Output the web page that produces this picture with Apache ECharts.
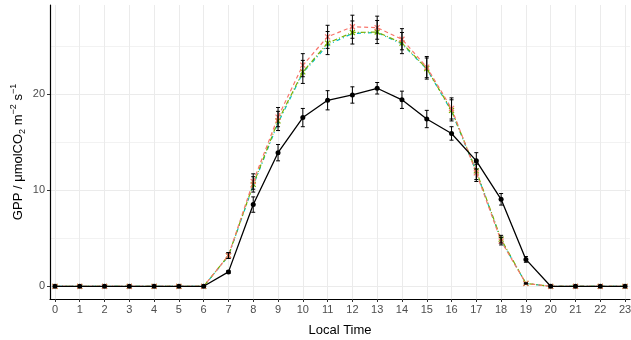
<!DOCTYPE html>
<html>
<head>
<meta charset="utf-8">
<script src="https://cdn.jsdelivr.net/npm/echarts@6/dist/echarts.min.js"></script>
<style>
  html, body { margin: 0; padding: 0; background: #fff; }
  #chart { width: 631px; height: 340px; }
</style>
</head>
<body>
<div id="chart"></div>
<script>
// Diurnal course of gross primary production (hourly means ± error)
const hours = [0,1,2,3,4,5,6,7,8,9,10,11,12,13,14,15,16,17,18,19,20,21,22,23];

const observed    = [0,0,0,0,0,0,0,1.5,8.5,13.9,17.55,19.35,19.9,20.6,19.4,17.4,15.9,13.05,9.05,2.8,0,0,0,0];
const observedErr = [0,0,0,0,0,0,0,0.15,0.8,0.85,0.95,1.0,0.85,0.6,0.9,0.9,0.7,0.85,0.6,0.3,0,0,0,0];

const modelA      = [0,0,0,0,0,0,0,3.2,10.9,17.6,23.0,25.95,27.0,26.9,25.7,22.8,18.5,11.8,4.7,0.3,0,0,0,0];
const modelAErr   = [0,0,0,0,0,0,0,0.3,0.8,1.0,1.2,1.2,1.2,1.2,1.1,1.1,1.1,0.9,0.4,0.05,0,0,0,0];
const modelB      = [0,0,0,0,0,0,0,3.2,10.6,17.2,22.3,25.3,26.4,26.45,25.3,22.65,18.3,12.0,4.9,0.3,0,0,0,0];
const modelBErr   = [0,0,0,0,0,0,0,0.3,0.8,1.0,1.2,1.2,1.2,1.2,1.1,1.1,1.1,0.9,0.4,0.05,0,0,0,0];
const modelC      = [0,0,0,0,0,0,0,3.15,10.5,17.0,22.2,25.1,26.3,26.4,25.2,22.6,18.2,11.9,4.8,0.3,0,0,0,0];

const xTicks = hours;
const yLabelTicks = [0, 10, 20];
const yMinorTicks = [5, 15, 25];

const pairs = (vals) => hours.map((h, i) => [h, vals[i]]);
const bars = (vals, errs) => hours
  .map((h, i) => [h, vals[i] - errs[i], vals[i] + errs[i]])
  .filter((d, i) => errs[i] > 0);

function errorBarSeries(vals, errs, z) {
  return {
    type: 'custom',
    z: z,
    data: bars(vals, errs),
    encode: { x: 0, y: [1, 2] },
    renderItem: function (params, api) {
      const x = api.value(0);
      const lo = api.coord([x, api.value(1)]);
      const hi = api.coord([x, api.value(2)]);
      const cap = 2;
      const style = { stroke: '#000', lineWidth: 1 };
      return {
        type: 'group',
        children: [
          { type: 'line', shape: { x1: lo[0], y1: lo[1], x2: hi[0], y2: hi[1] }, style: style },
          { type: 'line', shape: { x1: lo[0] - cap, y1: lo[1], x2: lo[0] + cap, y2: lo[1] }, style: style },
          { type: 'line', shape: { x1: hi[0] - cap, y1: hi[1], x2: hi[0] + cap, y2: hi[1] }, style: style }
        ]
      };
    }
  };
}

const crossPath = 'path://M0,0L10,10M10,0L0,10';
const font = 'Liberation Sans, Arial, sans-serif';

const chart = echarts.init(document.getElementById('chart'), null, { renderer: 'canvas' });
chart.setOption({
  animation: false,
  backgroundColor: '#fff',
  grid: { left: 50, right: 1, top: 5, bottom: 41, containLabel: false, outerBoundsMode: 'none' },
  xAxis: {
    type: 'value',
    min: -0.2,
    max: 23.2,
    name: 'Local Time',
    nameLocation: 'middle',
    nameGap: 25,
    nameTextStyle: { fontFamily: font, fontSize: 13, color: '#000' },
    axisLine: { show: true, onZero: false, lineStyle: { color: '#000', width: 1.2 } },
    axisTick: { show: true, length: 3, customValues: xTicks, lineStyle: { color: '#333', width: 1 } },
    axisLabel: { customValues: xTicks, margin: 5, fontFamily: font, fontSize: 11, color: '#4d4d4d' },
    splitLine: { show: true, lineStyle: { color: '#ebebeb', width: 1 } }
  },
  yAxis: [{
    type: 'value',
    min: -1.32,
    max: 29.26,
    name: '{b|GPP / μmolCO}{sub|2}{b| m}{sup|−2}{b| s}{sup|−1}',
    nameLocation: 'middle',
    nameGap: 23,
    nameMoveOverlap: false,
    nameRotate: 90,
    nameTextStyle: {
      fontFamily: font, fontSize: 13, color: '#000',
      rich: {
        b: { fontFamily: font, fontSize: 13, color: '#000', lineHeight: 18, verticalAlign: 'middle' },
        sub: { fontFamily: font, fontSize: 9, color: '#000', lineHeight: 18, verticalAlign: 'bottom', padding: [5, 0, 0, 0] },
        sup: { fontFamily: font, fontSize: 9, color: '#000', lineHeight: 18, verticalAlign: 'top', padding: [0, 0, 8, 0] }
      }
    },
    axisLine: { show: true, onZero: false, lineStyle: { color: '#000', width: 1.2 } },
    axisTick: { show: true, length: 3, customValues: yLabelTicks, lineStyle: { color: '#333', width: 1 } },
    axisLabel: { customValues: yLabelTicks, margin: 5, fontFamily: font, fontSize: 11, color: '#4d4d4d' },
    splitLine: { show: true, lineStyle: { color: '#ebebeb', width: 1 } }
  }, {
    type: 'value',
    min: -1.32,
    max: 29.26,
    position: 'left',
    axisLine: { show: false },
    axisTick: { show: false, customValues: yMinorTicks },
    axisLabel: { show: false, customValues: yMinorTicks },
    splitLine: { show: true, lineStyle: { color: '#f2f2f2', width: 1 } }
  }],
  series: [
    {
      type: 'line', data: pairs(modelC), z: 3,
      lineStyle: { color: '#00BFC4', width: 1.2, type: [1, 3, 4, 3] },
      symbol: 'circle', symbolSize: 3,
      itemStyle: { color: '#00BFC4' }
    },
    {
      type: 'line', data: pairs(modelB), z: 4,
      lineStyle: { color: '#7CAE00', width: 1.2, type: [5, 2, 1, 2] },
      symbol: crossPath, symbolSize: 5,
      itemStyle: { color: 'rgba(0,0,0,0)', borderColor: '#7CAE00', borderWidth: 1.2 }
    },
    {
      type: 'line', data: pairs(modelA), z: 5,
      lineStyle: { color: '#F8766D', width: 1.2, type: [4, 3] },
      symbol: crossPath, symbolSize: 5,
      itemStyle: { color: 'rgba(0,0,0,0)', borderColor: '#F8766D', borderWidth: 1.2 }
    },
    errorBarSeries(modelB, modelBErr, 6),
    errorBarSeries(modelA, modelAErr, 6),
    errorBarSeries(observed, observedErr, 7),
    {
      type: 'line', data: pairs(observed), z: 8,
      lineStyle: { color: '#000', width: 1.3, type: 'solid' },
      symbol: 'circle', symbolSize: 5,
      itemStyle: { color: '#000' }
    }
  ]
});
</script>
</body>
</html>
